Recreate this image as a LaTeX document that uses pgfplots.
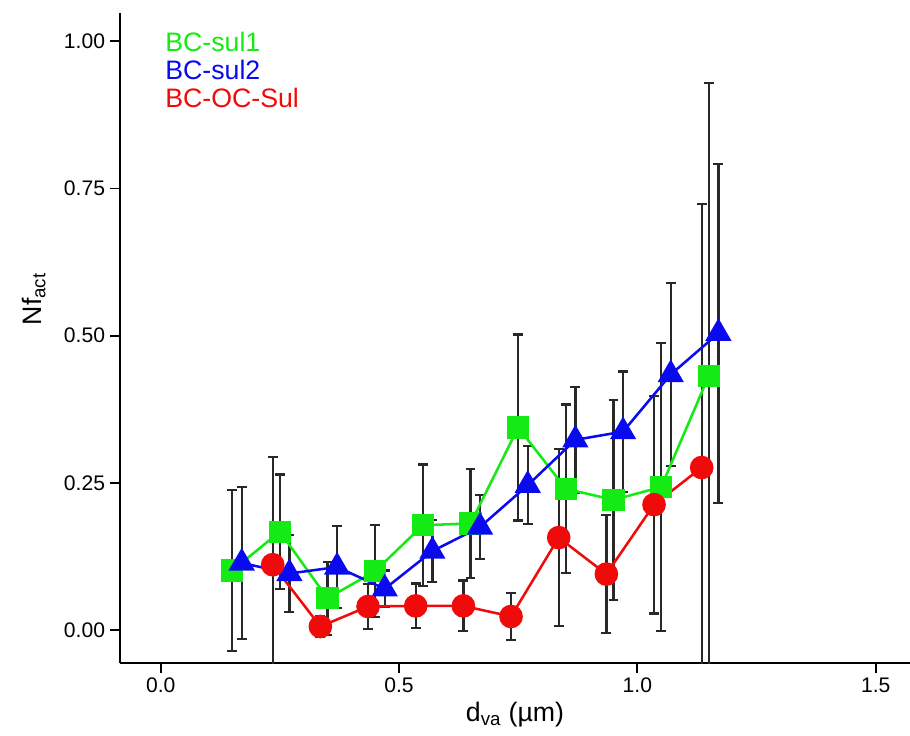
\documentclass[border=0pt]{standalone}
\usepackage{fontspec}
\setmainfont{Liberation Sans}
\usepackage{pgfplots}
\usepackage{pgfplotstable}
\pgfplotsset{compat=1.18}

\definecolor{sulone}{RGB}{20,235,20}
\definecolor{sultwo}{RGB}{10,10,240}
\definecolor{ocsul}{RGB}{240,10,10}
\definecolor{ebar}{RGB}{40,40,40}

% x = d_va (um), y = Nf_act, e = error (+/-)
\pgfplotstableread{
x     y      e
0.150 0.101  0.137
0.250 0.167  0.097
0.350 0.054  0.062
0.450 0.100  0.078
0.550 0.178  0.103
0.650 0.181  0.092
0.750 0.344  0.158
0.850 0.240  0.143
0.950 0.221  0.170
1.050 0.243  0.245
1.150 0.432  0.497
}\sulonetab

\pgfplotstableread{
x     y      e
0.170 0.114  0.129
0.270 0.096  0.065
0.370 0.107  0.070
0.470 0.070  0.031
0.570 0.134  0.053
0.670 0.175  0.054
0.770 0.246  0.066
0.870 0.323  0.090
0.970 0.337  0.102
1.070 0.434  0.155
1.170 0.504  0.288
}\sultwotab

\pgfplotstableread{
x     y      e
0.235 0.111  0.183
0.335 0.006  0.017
0.435 0.040  0.038
0.535 0.041  0.038
0.635 0.041  0.043
0.735 0.023  0.040
0.835 0.157  0.150
0.935 0.095  0.100
1.035 0.213  0.185
1.135 0.276  0.447
}\ocsultab

\pgfplotsset{ebars/.style={draw=none, forget plot, error bars/.cd, y dir=both, y explicit,
    error bar style={ebar, line width=1.6pt},
    error mark options={ebar, rotate=90, line width=1.6pt, mark size=3.5pt}}}

\begin{document}
\begin{tikzpicture}
\useasboundingbox (-30mm,-18mm) rectangle (197.5mm,165.75mm);
\begin{axis}[
    at={(0,0)}, anchor=south west,
    scale only axis, width=197.5mm, height=162.5mm,
    xmin=-0.0854, xmax=1.572, ymin=-0.056, ymax=1.048,
    axis x line=bottom, axis y line=left,
    axis line style={-, line width=1.3pt, black},
    xtick={0,0.5,1,1.5}, ytick={0,0.25,0.5,0.75,1},
    x tick label style={/pgf/number format/fixed, /pgf/number format/fixed zerofill, /pgf/number format/precision=1},
    y tick label style={/pgf/number format/fixed, /pgf/number format/fixed zerofill, /pgf/number format/precision=2},
    /pgf/number format/assume math mode=true,
    tick align=outside, major tick length=2.5mm,
    tick style={line width=1.3pt, black},
    ticklabel style={font=\fontsize{15}{18}\selectfont},
    xlabel={d\textsubscript{va} (µm)},
    ylabel={Nf\textsubscript{act}},
    label style={font=\fontsize{19}{22}\selectfont},
    ylabel style={at={(axis description cs:-0.088,0.56)}, anchor=south},
    clip=true,
]
% error bars first, below the lines and marks
\addplot[ebars] table[x=x, y=y, y error=e] {\sulonetab};
\addplot[ebars] table[x=x, y=y, y error=e] {\sultwotab};
\addplot[ebars] table[x=x, y=y, y error=e] {\ocsultab};

\addplot[sulone, line width=1.8pt, mark=square*, mark size=7pt, mark options={draw=none, fill=sulone}]
    table[x=x, y=y] {\sulonetab};
\addplot[sultwo, line width=1.8pt, mark=triangle*, mark size=9pt, mark options={draw=none, fill=sultwo}]
    table[x=x, y=y] {\sultwotab};
\addplot[ocsul, line width=1.8pt, mark=*, mark size=7.5pt, mark options={draw=none, fill=ocsul}]
    table[x=x, y=y] {\ocsultab};

\node[anchor=west, inner sep=0pt, text=sulone, font=\fontsize{19}{23}\selectfont] at (rel axis cs:0.057,0.955) {BC-sul1};
\node[anchor=west, inner sep=0pt, text=sultwo, font=\fontsize{19}{23}\selectfont] at (rel axis cs:0.057,0.912) {BC-sul2};
\node[anchor=west, inner sep=0pt, text=ocsul, font=\fontsize{19}{23}\selectfont] at (rel axis cs:0.057,0.870) {BC-OC-Sul};
\end{axis}
\end{tikzpicture}
\end{document}
